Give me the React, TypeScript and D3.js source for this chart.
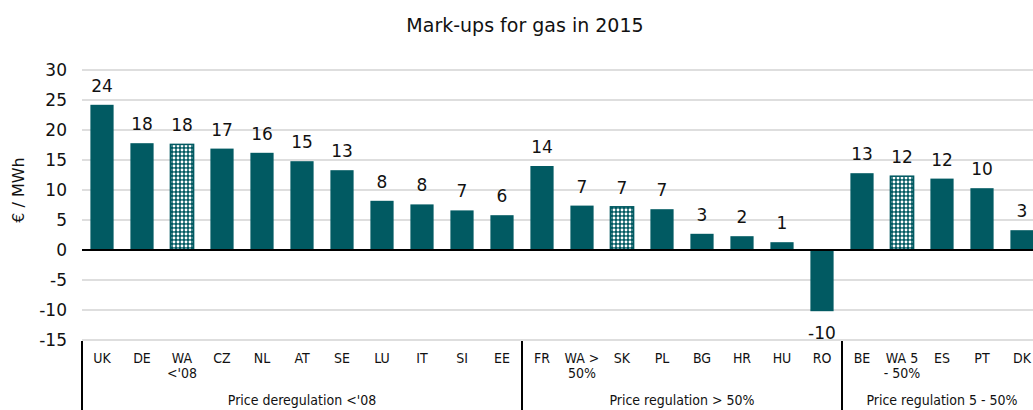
import React, { useEffect, useRef } from 'react';
import * as d3 from 'd3';

const categories = ['UK', 'DE', "WA\n<'08", 'CZ', 'NL', 'AT', 'SE', 'LU', 'IT', 'SI', 'EE',
  'FR', 'WA >\n50%', 'SK', 'PL', 'BG', 'HR', 'HU', 'RO',
  'BE', 'WA 5\n- 50%', 'ES', 'PT', 'DK'];
const values = [24.2, 17.8, 17.6, 16.9, 16.2, 14.8, 13.3, 8.2, 7.6, 6.6, 5.8,
  14.0, 7.4, 7.2, 6.8, 2.7, 2.3, 1.3, -10.2,
  12.8, 12.3, 11.9, 10.3, 3.3];
// barres à motif (telles qu'elles apparaissent dans le graphique)
const hatched = ["WA\n<'08", 'SK', 'WA 5\n- 50%'];
const groups = [
  { name: "Price deregulation <'08", from: 0, to: 10 },
  { name: 'Price regulation > 50%', from: 11, to: 18 },
  { name: 'Price regulation 5 - 50%', from: 19, to: 23 },
];
const yTicks = [30, 25, 20, 15, 10, 5, 0, -5, -10, -15];

const FONT = '"DejaVu Sans", sans-serif';
const FONT_COND = '"DejaVu Sans Condensed", "DejaVu Sans", sans-serif';
const TEAL = '#015a62';

function App() {
  const svgRef = useRef(null);

  useEffect(() => {
    document.body.style.margin = '0';
    const width = 1033;
    const height = 410;
    const svg = d3.select(svgRef.current);
    svg.html('');
    svg.attr('width', width).attr('height', height).style('font-family', FONT);

    const x = d3.scaleBand().domain(categories).range([82, 82 + categories.length * 40]).paddingInner(0.42).paddingOuter(0.21);
    const y = d3.scaleLinear().domain([-15, 30]).range([340, 70]);
    const step = x.step();
    const bandStart = (i) => 82 + i * step;
    const fmt = (d) => String(Math.round(d));

    const defs = svg.append('defs');
    const pat = defs.append('pattern').attr('id', 'lattice').attr('patternUnits', 'userSpaceOnUse')
      .attr('width', 4).attr('height', 4);
    pat.append('rect').attr('width', 4).attr('height', 4).attr('fill', TEAL);
    pat.append('circle').attr('cx', 2).attr('cy', 2).attr('r', 1.45).attr('fill', '#fff');

    svg.append('text').attr('x', 525).attr('y', 32).attr('text-anchor', 'middle')
      .style('font-size', '19px').attr('fill', '#111').text('Mark-ups for gas in 2015');

    // grille
    svg.append('g').selectAll('line').data(yTicks.filter(t => t !== 0)).join('line')
      .attr('x1', 82).attr('x2', width).attr('y1', d => y(d)).attr('y2', d => y(d))
      .attr('stroke', '#d3d3d3').attr('stroke-width', 1.5);

    svg.append('g').selectAll('text').data(yTicks).join('text')
      .attr('x', 67).attr('y', d => y(d) + 6).attr('text-anchor', 'end')
      .style('font-size', '17px').attr('fill', '#111').text(d => d);

    svg.append('text').attr('transform', `translate(24,${y(10)}) rotate(-90)`)
      .attr('text-anchor', 'middle').style('font-size', '16px').attr('fill', '#111').text('€ / MWh');

    // barres
    svg.append('g').selectAll('rect').data(values).join('rect')
      .attr('x', (d, i) => x(categories[i]))
      .attr('width', x.bandwidth())
      .attr('y', d => y(Math.max(0, d)))
      .attr('height', d => Math.abs(y(d) - y(0)))
      .attr('fill', (d, i) => hatched.includes(categories[i]) ? 'url(#lattice)' : TEAL)
      .attr('stroke', TEAL).attr('stroke-width', (d, i) => hatched.includes(categories[i]) ? 1.5 : 0);

    // étiquettes de valeur
    svg.append('g').selectAll('text').data(values).join('text')
      .attr('x', (d, i) => x(categories[i]) + x.bandwidth() / 2)
      .attr('y', d => d >= 0 ? y(d) - 13 : y(d) + 28)
      .attr('text-anchor', 'middle').style('font-size', '17px').attr('fill', '#111')
      .text(fmt);

    // ligne zéro
    svg.append('line').attr('x1', 82).attr('x2', width).attr('y1', y(0)).attr('y2', y(0))
      .attr('stroke', '#000').attr('stroke-width', 2);

    // catégories
    const cat = svg.append('g').selectAll('text').data(categories).join('text')
      .attr('x', d => x(d) + x.bandwidth() / 2).attr('y', 363)
      .attr('text-anchor', 'middle').style('font-family', FONT_COND).style('font-size', '14px').attr('fill', '#111');
    cat.selectAll('tspan').data(d => d.split('\n')).join('tspan')
      .attr('x', function () { return d3.select(this.parentNode).attr('x'); })
      .attr('dy', (d, i) => i === 0 ? 0 : 15).text(d => d);

    // séparateurs des groupes
    const seps = [0, ...groups.map(g => g.to + 1)];
    svg.append('g').selectAll('line').data(seps).join('line')
      .attr('x1', d => bandStart(d)).attr('x2', d => bandStart(d))
      .attr('y1', 341).attr('y2', height)
      .attr('stroke', '#000').attr('stroke-width', 2);

    svg.append('g').selectAll('text').data(groups).join('text')
      .attr('x', g => (bandStart(g.from) + bandStart(g.to + 1)) / 2).attr('y', 405)
      .attr('text-anchor', 'middle').style('font-family', FONT_COND).style('font-size', '14px').attr('fill', '#111')
      .text(g => g.name);
  }, []);

  return <svg ref={svgRef} style={{ display: 'block' }}></svg>;
}

export default App;
